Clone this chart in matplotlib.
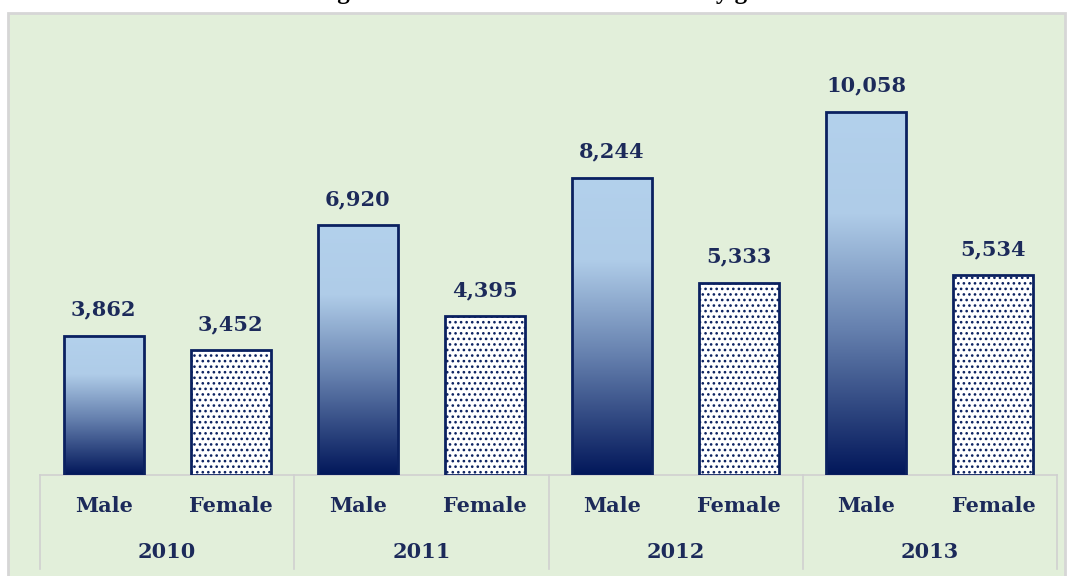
import matplotlib.pyplot as plt
import numpy as np
from matplotlib.patches import Rectangle
from matplotlib.colors import LinearSegmentedColormap

years = ['2010', '2011', '2012', '2013']
genders = ['Male', 'Female']
male = [3862, 6920, 8244, 10058]
female = [3452, 4395, 5333, 5534]

navy = '#0B2160'
txt = '#1C2A5A'
bg = '#E2EFDA'
fam = 'DejaVu Serif'
plt.rcParams['hatch.linewidth'] = 1.1

fig = plt.figure(figsize=(10.73, 5.76), dpi=100)
fig.patch.set_facecolor('white')
# outer frame of the chart box
fig.patches.append(Rectangle((8 / 1073, -0.05), 1057 / 1073, (563 / 576) + 0.05,
                             transform=fig.transFigure, facecolor=bg,
                             edgecolor='#D6D6D6', lw=2, zorder=-5))
# title is cut off at the top edge in the source
fig.text(0.523, 577 / 576, 'Figure 3: TVET students enrolment by gender',
         ha='center', va='baseline', fontsize=18, fontweight='bold',
         family='Liberation Serif', color='black')

ax = fig.add_axes([40 / 1073, 101 / 576, 1017 / 1073, 433 / 576])
ax.set_zorder(2)
ax.set_facecolor('none')
ymax = 12000
for s in ax.spines.values():
    s.set_visible(False)
ax.set_xticks([])
ax.set_yticks([])

cmap = LinearSegmentedColormap.from_list('m', [(0, '#B3D1EC'), (0.28, '#AFCCE8'),
                                               (0.6, '#6580AE'), (1, '#02175A')])
grad = np.linspace(0, 1, 256).reshape(-1, 1)
w = 0.63
fs = 15
for i in range(len(years)):
    xm = 2 * i
    xf = 2 * i + 1
    ax.imshow(grad, extent=[xm - w / 2, xm + w / 2, 0, male[i]], aspect='auto',
              cmap=cmap, origin='upper', zorder=2)
    ax.bar(xm, male[i], width=w, facecolor='none', edgecolor=navy, lw=2, zorder=3)
    ax.bar(xf, female[i], width=w, facecolor='white', edgecolor=navy, lw=2,
           hatch='...', zorder=3)
    ax.text(xm, male[i] + 450, f'{male[i]:,}', ha='center', va='bottom',
            fontsize=fs, fontweight='bold', family=fam, color=txt)
    ax.text(xf, female[i] + 450, f'{female[i]:,}', ha='center', va='bottom',
            fontsize=fs, fontweight='bold', family=fam, color=txt)
    ax.text(xm, -870, genders[0], ha='center', va='center', fontsize=15,
            fontweight='bold', family=fam, color=txt)
    ax.text(xf, -870, genders[1], ha='center', va='center', fontsize=15,
            fontweight='bold', family=fam, color=txt)
    ax.text(xm + 0.5, -2130, years[i], ha='center', va='center', fontsize=15,
            fontweight='bold', family=fam, color=txt)
ax.set_xlim(-0.5, 7.5)
ax.set_ylim(0, ymax)

# category axis lines
ax.plot([-0.5, 7.5], [0, 0], color='#D0D0D0', lw=1.2, clip_on=False, zorder=1)
for k in range(5):
    ax.plot([2 * k - 0.5] * 2, [0, -2600], color='#D0D0D0', lw=1.2,
            clip_on=False, zorder=1)

plt.savefig('out.png', dpi=100, facecolor=fig.get_facecolor())
